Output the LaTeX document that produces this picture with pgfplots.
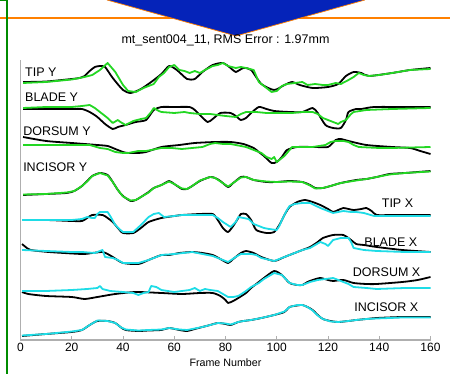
\documentclass[border=0pt]{standalone}
\usepackage{pgfplots}
\pgfplotsset{compat=1.18}
\usepackage{fontspec}
\setmainfont{Liberation Sans}
\definecolor{dgreen}{RGB}{0,140,0}
\definecolor{lgreen}{RGB}{35,215,35}
\definecolor{lcyan}{RGB}{30,220,230}
\definecolor{tri}{RGB}{5,35,185}
\definecolor{org}{RGB}{255,128,0}
\definecolor{axgray}{RGB}{175,175,175}
\begin{document}
\begin{tikzpicture}
\begin{axis}[
  scale only axis, width=410pt, height=280pt,
  xmin=0, xmax=160, ymin=-340, ymax=-60,
  axis x line*=bottom, axis y line*=left,
  axis line style={draw=axgray, line width=1.3pt},
  xtick={0,20,...,160}, ytick=\empty,
  tick style={draw=axgray, line width=0.8pt},
  major tick length=4pt, tick align=inside,
  /pgf/number format/assume math mode=true,
  xticklabel style={font=\fontsize{12}{12}\selectfont},
  xlabel={Frame Number},
  xlabel style={font=\fontsize{10.7}{11}\selectfont, at={(axis description cs:0.5,0)}, anchor=center, yshift=-23pt},
  title={mt\_sent004\_11, RMS Error : 1.97mm},
  title style={font=\fontsize{12.5}{13}\selectfont, at={(axis description cs:0.5,1)}, anchor=center, yshift=14pt},
  clip=false,
  every axis plot/.append style={line width=1.8pt, line join=round, no markers},
]
% ---------- decorations (pixel x -> (px-20.5)/2.5625, y -> -py) ----------
\draw[org, line width=2.5pt] (axis cs:-8,-18) -- (axis cs:167.6,-18);
\fill[tri] (axis cs:33.76,0) -- (axis cs:84.1,-36) -- (axis cs:134.4,0) -- cycle;
\draw[org, line width=0.7pt] (axis cs:33.76,0) -- (axis cs:84.1,-36) -- (axis cs:134.4,0);
\draw[dgreen, line width=2pt] (axis cs:-5.27,0) -- (axis cs:-5.27,-374);
\draw[dgreen, line width=2pt] (axis cs:-8,-0.5) -- (axis cs:-5.27,-0.5);
\coordinate (bbsw) at (axis cs:-8,-374);
\coordinate (bbne) at (axis cs:167.61,0);
% ---------- TIP Y ----------
\addplot[black, smooth, tension=0.4] coordinates {(1,-82)(10,-81.5)(20,-79)(23,-78)(25,-76)(27,-71)(29,-67)(31,-66)(33,-67)(36,-78)(40,-90)(43,-93)(47,-89)(51,-82)(55,-74)(58,-66)(61,-70)(65,-79)(68,-79)(71,-72)(75,-65)(79,-63)(82,-68)(84,-72)(87,-68)(90,-70)(94,-84)(99,-90)(103,-85)(106,-82)(109,-85)(114,-88)(120,-87)(124,-84)(127,-76)(130,-72)(133,-73)(136,-76)(145,-73)(152,-70)(160,-68)};
\addplot[lgreen] coordinates {(1,-83)(10,-82)(20,-79.5)(25,-77)(28,-75)(31,-70)(34,-63)(37,-72)(40,-85)(42,-91)(45,-92)(48,-88)(50,-86)(52,-84)(54,-77)(56,-73)(58,-67)(60,-65)(62,-70)(64,-71)(66,-73)(68,-71)(70,-73)(72,-70)(75,-66)(77,-65)(79,-63)(81,-66)(84,-68)(86,-67)(88,-68)(91,-70)(93,-82)(96,-88)(98,-92)(100,-91)(102,-86)(104,-84)(107,-83)(110,-82)(112,-85)(115,-84)(118,-85)(120,-85)(123,-83)(125,-84)(128,-80)(130,-77)(132,-73)(134,-75)(136,-76)(140,-75)(145,-73)(152,-70)(160,-69)};
% ---------- BLADE Y ----------
\addplot[black, smooth, tension=0.4] coordinates {(1,-109)(10,-109)(20,-109)(24,-109)(27,-112)(30,-117)(33,-124)(36,-129)(38,-127)(41,-125)(45,-122)(49,-120)(52,-110)(55,-107)(60,-107)(66,-107)(68,-110)(70,-115)(73,-122)(75,-119)(78,-113)(82,-113)(84,-116)(86,-120)(88,-118)(90,-113)(93,-107)(96,-109)(99,-111)(105,-112)(110,-112)(114,-108)(116,-113)(119,-125)(122,-128)(125,-128)(127,-120)(128,-112)(131,-109)(133,-109)(138,-107)(150,-107)(160,-107)};
\addplot[lgreen] coordinates {(1,-108)(10,-107)(20,-107)(24,-106)(27,-105)(29,-108)(31,-112)(34,-118)(36,-123)(38,-120)(39,-122)(41,-125)(44,-121)(47,-119)(49,-118)(51,-112)(52,-108)(54,-111)(55,-112)(60,-113)(64,-112)(66,-113)(70,-114)(74,-114)(77,-115)(80,-116)(84,-117)(86,-114)(88,-112)(92,-112)(96,-113)(100,-113)(106,-113)(110,-112)(114,-112)(116,-114)(118,-118)(120,-120)(122,-122)(124,-124)(125,-122)(127,-120)(129,-114)(130,-112)(135,-110)(145,-109)(160,-108)};
% ---------- DORSUM Y ----------
\addplot[black, smooth, tension=0.4] coordinates {(1,-137)(10,-141)(20,-143)(30,-145)(34,-146)(37,-149)(40,-152)(42,-153)(46,-153)(49,-152)(55,-147)(62,-145)(68,-143)(76,-142)(82,-142)(87,-144)(91,-148)(93,-152)(95,-156)(98,-163)(100,-162)(102,-157)(104,-150)(108,-147)(115,-147)(120,-147)(123,-140)(125,-139)(128,-141)(135,-145)(145,-147)(152,-148)(156,-151)(160,-154)};
\addplot[lgreen] coordinates {(1,-145)(10,-145)(20,-145)(27,-145)(31,-148)(34,-149)(37,-152)(40,-153)(42,-153)(46,-151)(49,-151)(55,-148)(59,-148)(63,-149)(67,-148)(71,-147)(74,-144)(76,-143)(79,-144)(82,-144)(86,-146)(88,-147)(91,-150)(94,-153)(96,-157)(98,-159)(99,-157)(100,-162)(102,-158)(103,-156)(106,-147)(110,-147)(114,-147)(119,-145)(121,-142)(123,-141)(126,-141)(128,-142)(130,-145)(132,-147)(140,-148)(145,-148)(160,-147)};
% ---------- INCISOR Y ----------
\addplot[black, smooth, tension=0.4] coordinates {(1,-195)(10,-194)(18,-193)(21,-191)(24,-186)(26,-181)(28,-176)(31,-173)(34,-175)(36,-182)(38,-190)(40,-196)(43,-201)(45,-200)(47,-197)(50,-192)(52,-188)(55,-185)(58,-181)(60,-184)(63,-189)(65,-189)(67,-186)(70,-181)(74,-177)(76,-178)(78,-181)(81,-187)(83,-183)(86,-177)(88,-177)(91,-180)(96,-182)(100,-182)(105,-181)(110,-182)(113,-185)(115,-188)(118,-188)(121,-186)(125,-183)(131,-180)(135,-179)(139,-177)(144,-174)(150,-173)(160,-171)};
\addplot[lgreen] coordinates {(1,-194.5)(10,-194)(18,-192.5)(21,-191)(24,-186)(26,-181.5)(28,-176)(31,-173)(34,-175.5)(36,-182)(38,-190)(40,-196.5)(43,-200.5)(45,-200)(47,-197)(50,-192.5)(52,-188)(55,-185)(58,-181.5)(60,-184)(63,-188.5)(65,-189)(67,-186)(70,-180.5)(74,-177)(76,-178)(78,-181.5)(81,-186.5)(83,-183)(86,-177.5)(88,-177)(91,-180)(96,-181.5)(100,-182)(105,-181.5)(110,-182)(113,-185.5)(115,-188.5)(118,-188)(121,-186)(125,-183)(131,-180.5)(135,-179)(139,-177)(144,-174.5)(150,-173)(160,-171.5)};
% ---------- TIP X ----------
\addplot[black, smooth, tension=0.4] coordinates {(0.6,-220)(10,-220)(20,-221)(24,-221)(26,-218)(28,-215)(32,-215)(34,-218)(36,-222)(38,-228)(40,-233)(44,-233)(47,-228)(50,-222)(55,-218)(60,-216)(63,-215)(70,-214)(75,-214)(77,-220)(79,-228)(81,-232)(83,-226)(85,-218)(86,-214)(88,-214)(90,-220)(92,-230)(96,-233)(99,-232)(101,-225)(103,-215)(105,-207)(108,-202)(111,-200)(114,-202)(117,-205)(120,-209)(122,-212)(124,-210)(126,-208)(128,-209)(130,-210)(133,-209)(135,-208)(137,-211)(139,-215)(145,-215)(150,-215)(160,-215)};
\addplot[lcyan] coordinates {(0.6,-220)(10,-220)(20,-220)(24,-219)(26,-217)(28,-218)(29,-218)(30,-214)(31,-212)(34,-212)(35,-216)(37,-225)(39,-230)(40,-232)(44,-232)(47,-225)(50,-217)(52,-214)(54,-213)(55,-215)(56,-217)(60,-216)(63,-215)(70,-215)(75,-215)(77,-218)(79,-222)(82,-227)(84,-222)(85,-217)(87,-218)(89,-219)(91,-224)(93,-226)(95,-228)(97,-229)(100,-230)(101,-226)(102,-220)(104,-210)(105,-206)(107,-204)(110,-203)(113,-203)(117,-208)(120,-211)(122,-213)(124,-212)(126,-211)(129,-212)(131,-212)(134,-213)(138,-216)(145,-216)(160,-216)};
% ---------- BLADE X ----------
\addplot[black, smooth, tension=0.4] coordinates {(0.6,-244)(2,-247)(4,-250)(11,-252)(24,-254)(28,-253)(32,-252)(34,-254)(36,-257)(40,-263)(46,-264)(50,-260)(55,-255)(58,-255)(62,-253)(67,-252)(71,-253)(75,-255)(78,-259)(81,-263)(83,-259)(86,-253)(88,-251)(91,-253)(94,-257)(99,-261)(103,-257)(107,-253)(110,-250)(113,-247)(116,-242)(118,-238)(122,-235)(126,-235)(129,-240)(131,-244)(134,-245)(139,-247)(149,-250)(160,-252)};
\addplot[lcyan] coordinates {(0.6,-250)(10,-251)(20,-252)(24,-252)(29,-253)(31,-251)(32,-250)(33,-257)(36,-258)(38,-260)(40,-263)(46,-263)(50,-260)(55,-255)(60,-254)(67,-252)(71,-254)(75,-256)(78,-259)(81,-262)(84,-257)(86,-254)(90,-254)(92,-255)(94,-258)(99,-261)(103,-257)(107,-253)(110,-250)(113,-248)(115,-245)(117,-242)(119,-244)(120,-246)(122,-240)(125,-238)(128,-238)(129,-242)(130,-248)(134,-250)(139,-251)(150,-252)(160,-252)};
% ---------- DORSUM X ----------
\addplot[black, smooth, tension=0.4] coordinates {(0.6,-292)(3,-294)(10,-296)(20,-297)(25,-299)(30,-297)(37,-294)(45,-292)(55,-293)(63,-294)(70,-293)(75,-293)(78,-296)(80,-300)(81,-303)(83,-301)(85,-298)(88,-293)(90,-288)(93,-282)(95,-278)(99,-271)(102,-275)(105,-283)(108,-285)(110,-285)(112,-282)(114,-280)(117,-278)(120,-280)(122,-281)(126,-280)(130,-283)(135,-284)(139,-284)(149,-282)(155,-280)(160,-277)};
\addplot[lcyan] coordinates {(0.6,-291)(10,-291)(20,-290)(26,-289)(30,-288)(31,-286)(32,-289)(35,-291)(40,-292)(44,-293)(46,-295)(48,-293)(50,-292)(51,-286)(53,-287)(55,-290)(60,-292)(66,-290)(68,-288)(70,-291)(72,-289)(74,-290)(77,-291)(79,-294)(81,-297)(83,-297)(85,-296)(88,-291)(90,-287)(93,-283)(95,-279)(99,-273)(102,-275)(105,-283)(108,-285)(110,-285)(113,-282)(116,-280)(119,-279)(122,-278)(124,-280)(126,-282)(128,-284)(130,-287)(135,-288)(139,-289)(150,-288)(160,-288)};
% ---------- INCISOR X ----------
\addplot[black, smooth, tension=0.4] coordinates {(0.6,-336)(10,-334)(20,-332)(24,-330)(27,-325)(30,-321)(34,-321)(37,-323)(39,-327)(41,-330)(46,-331)(50,-330.5)(55,-330)(58,-328)(62,-330)(65,-331)(68,-329)(71,-327)(74,-325)(77,-323)(80,-324)(82,-325)(85,-322)(87,-321)(90,-320)(94,-318)(99,-315)(103,-312)(105,-307)(108,-305.5)(110,-305)(112,-307)(114,-310)(116,-315)(118,-319)(121,-321)(124,-322)(128,-321)(131,-320)(135,-319)(139,-318)(149,-317)(160,-317)};
\addplot[lcyan] coordinates {(0.6,-335.5)(10,-334)(20,-331.5)(24,-330)(27,-325)(30,-320.5)(34,-321)(37,-323)(39,-327)(41,-329.5)(46,-330.5)(50,-330)(55,-329.5)(58,-328)(62,-329.5)(65,-330)(68,-328.5)(71,-327)(74,-325)(77,-323)(80,-323.5)(82,-324.5)(85,-322)(87,-321)(90,-320)(94,-318)(99,-315)(103,-311.5)(105,-307)(108,-305)(110,-305)(112,-307)(114,-310.5)(116,-315.5)(118,-319)(121,-321.5)(124,-322)(128,-321)(131,-320)(135,-319)(139,-318.5)(149,-317.5)(160,-317.5)};
% ---------- labels ----------
\begin{scope}[every node/.style={font=\fontsize{12.5}{13}\selectfont, inner sep=0pt}]
\node[anchor=west] at (axis cs:1.76,-72.5) {TIP Y};
\node[anchor=west] at (axis cs:1.76,-97.5) {BLADE Y};
\node[anchor=west] at (axis cs:1,-131) {DORSUM Y};
\node[anchor=west] at (axis cs:1,-167.5) {INCISOR Y};
\node[anchor=east] at (axis cs:153.3,-203) {TIP X};
\node[anchor=east] at (axis cs:154.9,-242) {BLADE X};
\node[anchor=east] at (axis cs:156.1,-272) {DORSUM X};
\node[anchor=east] at (axis cs:155.3,-307) {INCISOR X};
\end{scope}
\end{axis}
\pgfresetboundingbox
\path[use as bounding box] (bbsw) rectangle (bbne);
\end{tikzpicture}
\end{document}
